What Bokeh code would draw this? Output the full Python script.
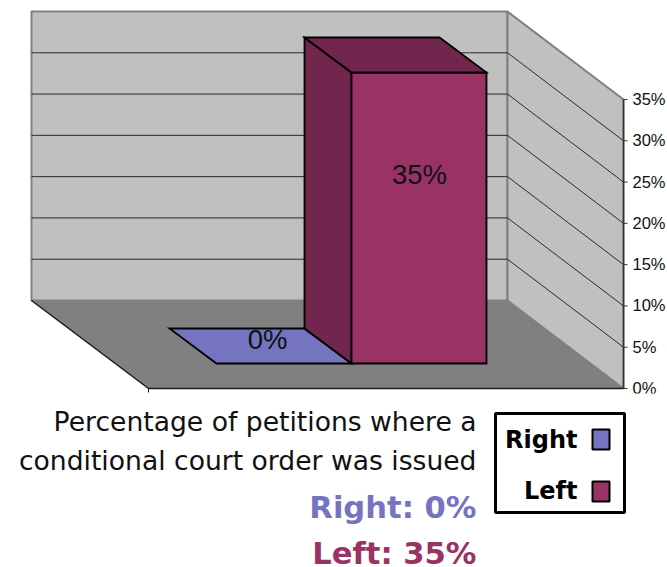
from bokeh.plotting import figure
from bokeh.models import Range1d
from bokeh.core.properties import value
from bokeh.embed import file_html
from bokeh.resources import INLINE

categories = ["Right", "Left"]
percent = [0, 35]
tick_values = [0, 5, 10, 15, 20, 25, 30, 35]
tick_labels = ["0%", "5%", "10%", "15%", "20%", "25%", "30%", "35%"]
title_lines = ["Percentage of petitions where a", "conditional court order was issued"]

RIGHT_C, LEFT_C = "#7474c0", "#993366"
RIGHT_D, LEFT_D = "#5a5a96", "#73264d"
colors = [RIGHT_C, LEFT_C]
darks = [RIGHT_D, LEFT_D]

# 3D projection: everything is expressed in page pixels through these
X_BACK, X_BACK_END, Y_BACK_BASE = 31, 507, 300
DX, DY = 116, 88
PX_PER_UNIT = 289 / 35
BAR_PX_PER_UNIT = 291 / 35
BAR_X = [216, 351]
BAR_W = 135
BAR_Y = 363
BDX, BDY = 47, 35

def h(v):
    return v * PX_PER_UNIT

p = figure(width=667, height=567, output_backend="svg", toolbar_location=None,
           x_range=Range1d(0, 667), y_range=Range1d(567, 0),
           x_axis_type="linear", min_border=0)
p.axis.visible = False
p.grid.visible = False
p.outline_line_color = None
p.background_fill_color = "white"
p.border_fill_color = "white"

top = tick_values[-1]
# back wall
p.patch([X_BACK, X_BACK_END, X_BACK_END, X_BACK],
        [Y_BACK_BASE, Y_BACK_BASE, Y_BACK_BASE - h(top), Y_BACK_BASE - h(top)],
        fill_color="#c0c0c0", line_color="#808080", line_width=2)
# side wall
p.patch([X_BACK_END, X_BACK_END + DX, X_BACK_END + DX, X_BACK_END],
        [Y_BACK_BASE, Y_BACK_BASE + DY, Y_BACK_BASE + DY - h(top), Y_BACK_BASE - h(top)],
        fill_color="#c0c0c0", line_color="#808080", line_width=2)
# floor
p.patch([X_BACK, X_BACK_END, X_BACK_END + DX, X_BACK + DX + 1],
        [Y_BACK_BASE, Y_BACK_BASE, Y_BACK_BASE + DY, Y_BACK_BASE + DY],
        fill_color="#808080", line_color=None)
p.line([X_BACK, X_BACK + DX + 1, X_BACK_END + DX], [Y_BACK_BASE, Y_BACK_BASE + DY, Y_BACK_BASE + DY],
       line_color="#1a1a1a", line_width=1.5)
p.line([X_BACK + DX + 1, X_BACK + DX + 1], [Y_BACK_BASE + DY, Y_BACK_BASE + DY + 4], line_color="#1a1a1a", line_width=1)

# gridlines
for t in tick_values[1:-1]:
    y = Y_BACK_BASE - h(t)
    p.line([X_BACK, X_BACK_END, X_BACK_END + DX], [y, y, y + DY], line_color="#2a2a2a", line_width=1)

# value axis
ax = X_BACK_END + DX
p.line([ax, ax], [Y_BACK_BASE + DY, Y_BACK_BASE + DY - h(top)], line_color="#333333", line_width=1.5)
for t, lab in zip(tick_values, tick_labels):
    y = Y_BACK_BASE + DY - h(t)
    p.line([ax, ax + 4], [y, y], line_color="#333333", line_width=1)
    p.text([ax + 9], [y - 0.5], text=[lab], text_font=value("Liberation Sans"), text_font_size="16.5px",
           text_color="#111111", text_align="left", text_baseline="middle")

# bars
for i, v in enumerate(percent):
    x0, x1 = BAR_X[i], BAR_X[i] + BAR_W
    yb, yt = BAR_Y, BAR_Y - v * BAR_PX_PER_UNIT
    kw = dict(line_color="black", line_width=1.8, line_join="miter")
    if v > 0:
        p.patch([x0, x0 - BDX, x0 - BDX, x0], [yb, yb - BDY, yt - BDY, yt], fill_color=darks[i], **kw)
        p.patch([x0, x1, x1, x0], [yb, yb, yt, yt], fill_color=colors[i], **kw)
        p.patch([x0, x1, x1 - BDX, x0 - BDX], [yt, yt, yt - BDY, yt - BDY], fill_color=darks[i], **kw)
    else:
        p.patch([x0, x1, x1 - BDX, x0 - BDX], [yt, yt, yt - BDY, yt - BDY], fill_color=colors[i], **kw)

# data labels
label_pos = [(267, 339), (419, 174)]
for (x, y), v in zip(label_pos, percent):
    p.text([x], [y], text=[f"{v}%"], text_font=value("Liberation Sans"), text_font_size="27.5px",
           text_color="#111111", text_align="center", text_baseline="middle")

# the reference cuts the plot image off just below the axis
p.quad(left=[ax + 2], right=[667], top=[393], bottom=[408], fill_color="white", line_color=None)

# caption
VF = value("DejaVu Sans")
for y, line in zip([421, 460], title_lines):
    p.text([476], [y], text=[line], text_font=VF, text_font_size="26.6px", text_color="#111111",
           text_align="right", text_baseline="alphabetic")
for y, c, n, v in zip([507, 553], colors, categories, percent):
    p.text([476], [y], text=[f"{n}: {v}%"], text_font=VF, text_font_style="bold", text_font_size="30.6px",
           text_color=c, text_align="right", text_baseline="alphabetic")

# legend
p.quad(left=[495], right=[624], top=[413], bottom=[512], fill_color="white", line_color="black", line_width=3)
for yc, yt, c, n in zip([439, 491], [439, 490], colors, categories):
    p.text([577], [yt], text=[n], text_font=VF, text_font_style="bold", text_font_size="24px",
           text_color="black", text_align="right", text_baseline="alphabetic")
    p.quad(left=[592], right=[609], top=[yc - 10], bottom=[yc + 10], fill_color=c, line_color="black", line_width=2)

open("out.html", "w").write(file_html(p, INLINE))
